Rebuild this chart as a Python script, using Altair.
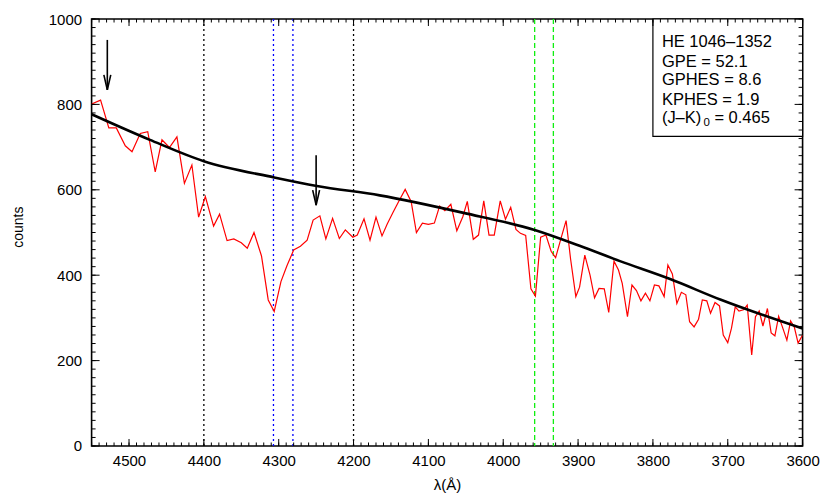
import altair as alt
import pandas as pd

# ---------------- data ----------------
# observed spectrum: (wavelength in Angstrom, counts)
spectrum = [
    (4550, 801), (4538, 810), (4527, 745), (4517, 745), (4505, 703), (4496, 689),
    (4485, 732), (4475, 736), (4465, 642), (4456, 717), (4446, 699), (4436, 724),
    (4426, 615), (4416, 658), (4407, 536), (4398, 584), (4387, 515), (4379, 543),
    (4369, 481), (4360, 485), (4350, 476), (4342, 463), (4333, 500), (4323, 445),
    (4314, 342), (4306, 315), (4297, 385), (4289, 422), (4280, 459), (4271, 468),
    (4262, 482), (4254, 529), (4245, 539), (4237, 485), (4228, 533), (4219, 486),
    (4211, 506), (4201, 489), (4195, 494), (4186, 532), (4178, 482), (4170, 536),
    (4162, 492), (4155, 520), (4147, 548), (4139, 575), (4131, 601), (4123, 572),
    (4116, 500), (4108, 522), (4100, 519), (4092, 522), (4085, 562), (4078, 551),
    (4070, 566), (4062, 504), (4054, 537), (4048, 573), (4040, 484), (4033, 494),
    (4026, 574), (4019, 494), (4012, 494), (4004, 574), (3997, 531), (3990, 559),
    (3983, 507), (3977, 498), (3970, 493), (3963, 368), (3957, 351), (3950, 489),
    (3943, 494), (3936, 456), (3930, 441), (3923, 485), (3916, 528), (3910, 438),
    (3903, 350), (3898, 372), (3891, 447), (3884, 400), (3878, 347), (3872, 369),
    (3865, 368), (3859, 313), (3852, 433), (3846, 412), (3841, 381), (3834, 303),
    (3828, 377), (3822, 364), (3816, 340), (3810, 358), (3804, 340), (3798, 377),
    (3792, 375), (3785, 350), (3780, 424), (3774, 403), (3768, 334), (3762, 360),
    (3756, 354), (3751, 291), (3745, 279), (3739, 297), (3734, 342), (3728, 340),
    (3723, 311), (3717, 336), (3711, 328), (3706, 260), (3700, 242), (3695, 276),
    (3690, 326), (3685, 316), (3679, 319), (3674, 330), (3668, 213), (3663, 303),
    (3658, 316), (3653, 281), (3647, 322), (3642, 265), (3637, 258), (3632, 304),
    (3627, 279), (3621, 248), (3616, 293), (3611, 278), (3606, 241), (3600, 260),
]
spec_lam = [p[0] for p in spectrum]
spec_cnt = [p[1] for p in spectrum]

# fitted continuum
cont_lam = [4550, 4472, 4400, 4306, 4249, 4165, 4053, 3958, 3898, 3844, 3777, 3710, 3600]
cont_cnt = [777, 717, 667, 629, 609, 587, 546, 506, 469, 433, 391, 343, 275]

# vertical marker lines
black_lines = [4400, 4200]
blue_lines = [4307, 4281]
green_lines = [3958, 3933]

# arrows (wavelength, top, tip)
arrow_lam = [4529, 4250]
arrow_top = [951, 681]
arrow_tip = [834, 564]

# info box
box_lam = [3800, 3600]
box_cnt = [725, 1000]
info_lines = ["HE 1046\u20131352", "GPE = 52.1", "GPHES = 8.6", "KPHES = 1.9"]
info_cnt = [945, 900, 856, 811]
jk_cnt = 767
jk_parts = ["(J\u2013K)", "0", "= 0.465"]
text_lam = 3788

# axis ticks
x_major = [3600, 3700, 3800, 3900, 4000, 4100, 4200, 4300, 4400, 4500]
x_minor = list(range(3600, 4551, 10))
y_major = [0, 200, 400, 600, 800, 1000]
y_minor = list(range(0, 1001, 20))

# ---------------- chart ----------------
W, H = 711, 427
FONT = "Liberation Sans"

xs = alt.Scale(domain=[3600, 4550], reverse=True, nice=False, zero=False)
ys = alt.Scale(domain=[0, 1000], nice=False, zero=False)
xaxis = alt.Axis(values=x_major, title="\u03bb(\u00c5)", ticks=False, tickSize=0, domain=False,
                 grid=False, labelFontSize=15, labelPadding=8, labelFlush=False,
                 labelOverlap=False, format="d", titleFontSize=15, titleFontWeight="normal",
                 titleY=44, titleBaseline="alphabetic")
yaxis = alt.Axis(values=y_major, title="counts", ticks=False, tickSize=0, domain=False,
                 grid=False, labelFontSize=15, labelPadding=10, labelFlush=False,
                 labelOverlap=False, format="d", titleFontSize=14, titleFontWeight="normal",
                 titleX=-68.6, titleY=207.7, titleBaseline="alphabetic")
X = alt.X("lam:Q", scale=xs, axis=xaxis)
Y = alt.Y("cnt:Q", scale=ys, axis=yaxis)

spec_df = pd.DataFrame({"lam": spec_lam, "cnt": spec_cnt})
cont_df = pd.DataFrame({"lam": cont_lam, "cnt": cont_cnt})

def vlines(vals, color, dash):
    return alt.Chart(pd.DataFrame({"lam": vals})).mark_rule(
        color=color, strokeWidth=1.3, strokeDash=dash).encode(x=X)

layers = []
layers.append(vlines(black_lines, "black", [2, 3]))
layers.append(vlines(blue_lines, "#0000ff", [2, 3]))
layers.append(vlines(green_lines, "#11ee11", [5, 3]))

layers.append(alt.Chart(spec_df).mark_line(color="#ff0000", strokeWidth=1.2, clip=True)
              .encode(x=X, y=Y))
layers.append(alt.Chart(cont_df).mark_line(color="black", strokeWidth=2.6, clip=True,
                                            interpolate="monotone").encode(x=X, y=Y))

# arrows
arr_df = pd.DataFrame({"lam": arrow_lam, "cnt": arrow_top, "tip": arrow_tip})
layers.append(alt.Chart(arr_df).mark_rule(color="black", strokeWidth=1.6)
              .encode(x=X, y=Y, y2=alt.Y2("tip:Q")))
head_df = pd.DataFrame({"lam": arrow_lam, "cnt": arrow_tip})
layers.append(alt.Chart(head_df).mark_point(
    shape="M -0.23 -1 L 0 0 L 0.23 -1", size=900, filled=False, color="black",
    strokeWidth=1.6, opacity=1).encode(x=X, y=Y))

# info box
box_df = pd.DataFrame({"lam": [box_lam[0]], "lam2": [box_lam[1]],
                       "cnt": [box_cnt[0]], "cnt2": [box_cnt[1]]})
layers.append(alt.Chart(box_df).mark_rect(fill="white", stroke="black", strokeWidth=1.2)
              .encode(x=X, x2=alt.X2("lam2:Q"), y=Y, y2=alt.Y2("cnt2:Q")))
info_df = pd.DataFrame({"lam": [text_lam] * len(info_lines), "cnt": info_cnt, "txt": info_lines})
layers.append(alt.Chart(info_df).mark_text(align="left", baseline="middle", fontSize=16.5,
                                            font=FONT, color="black")
              .encode(x=X, y=Y, text="txt:N"))
jk_df = pd.DataFrame({"lam": [text_lam], "cnt": [jk_cnt]})
layers.append(alt.Chart(jk_df).mark_text(align="left", baseline="middle", fontSize=16.5,
                                          font=FONT, color="black", text=jk_parts[0])
              .encode(x=X, y=Y))
layers.append(alt.Chart(jk_df).mark_text(align="left", baseline="middle", fontSize=11.5,
                                          font=FONT, color="black", text=jk_parts[1],
                                          dx=41.5, dy=5)
              .encode(x=X, y=Y))
layers.append(alt.Chart(jk_df).mark_text(align="left", baseline="middle", fontSize=16.5,
                                          font=FONT, color="black", text=jk_parts[2],
                                          dx=52.5)
              .encode(x=X, y=Y))

# inward ticks on all four sides
def xticks(vals, ln):
    d = pd.DataFrame({"lam": vals})
    b = alt.Chart(d).mark_rule(color="black", strokeWidth=1).encode(
        x=X, y=alt.value(H), y2=alt.value(H - ln))
    t = alt.Chart(d).mark_rule(color="black", strokeWidth=1).encode(
        x=X, y=alt.value(0), y2=alt.value(ln))
    return [b, t]

def yticks(vals, ln):
    d = pd.DataFrame({"cnt": vals})
    l = alt.Chart(d).mark_rule(color="black", strokeWidth=1).encode(
        y=Y, x=alt.value(0), x2=alt.value(ln))
    r = alt.Chart(d).mark_rule(color="black", strokeWidth=1).encode(
        y=Y, x=alt.value(W), x2=alt.value(W - ln))
    return [l, r]

layers += xticks(x_minor, 3.5) + xticks(x_major, 7)
layers += yticks(y_minor, 4) + yticks(y_major, 8)

chart = alt.layer(*layers).properties(
    width=W, height=H,
    autosize=alt.AutoSizeParams(type="none"),
    padding={"left": 83.6, "top": 11, "right": 18, "bottom": 48},
).configure_view(stroke="black", strokeWidth=1.6).configure_axis(
    labelFont=FONT, titleFont=FONT, labelColor="black", titleColor="black"
)

chart.save("out.html", embed_options={"renderer": "svg", "actions": False})
